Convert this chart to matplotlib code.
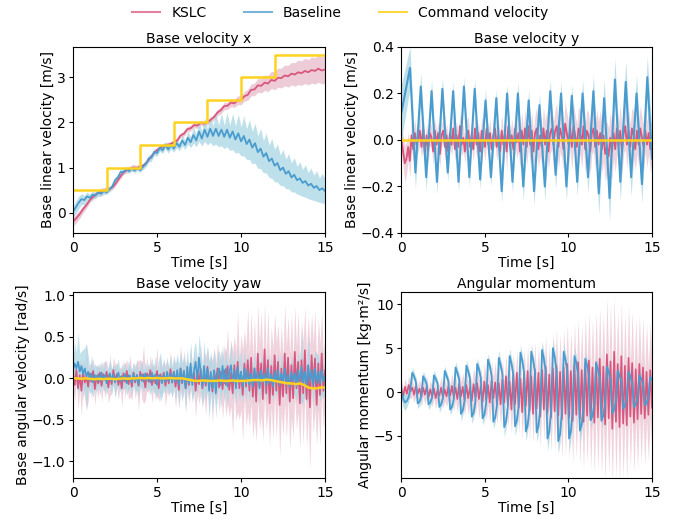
import numpy as np
import matplotlib
matplotlib.use("Agg")
import matplotlib.pyplot as plt
from matplotlib.lines import Line2D

plt.rcParams['font.family'] = ['DejaVu Sans']
plt.rcParams['font.size'] = 10
plt.rcParams['xtick.major.size'] = 3
plt.rcParams['ytick.major.size'] = 3
plt.rcParams['xtick.major.pad'] = 2.5
plt.rcParams['ytick.major.pad'] = 2.5
plt.rcParams['axes.titlepad'] = 3
plt.rcParams['axes.labelpad'] = 1.5

# ---------------- colours ----------------
C_KSLC = '#d9577e'
C_KSLC_BAND = '#e6b7c7'
C_BASE = '#4a9ccf'
C_BASE_BAND = '#a9d6e5'
C_CMD = '#ffd21f'

# ---------------- panel 1 : base velocity x ----------------
t_x_kslc = np.linspace(0, 15, 76)
vx_kslc = [-0.20, -0.12, -0.03, 0.08, 0.17, 0.28, 0.35, 0.42, 0.45, 0.48,
           0.50, 0.53, 0.58, 0.68, 0.79, 0.89, 0.94, 0.97, 1.00, 0.99,
           1.02, 1.05, 1.12, 1.22, 1.31, 1.39, 1.44, 1.48, 1.50, 1.52,
           1.56, 1.60, 1.71, 1.75, 1.85, 1.87, 1.94, 1.93, 1.99, 1.97,
           2.00, 2.06, 2.12, 2.22, 2.27, 2.36, 2.37, 2.44, 2.42, 2.49,
           2.49, 2.58, 2.61, 2.72, 2.73, 2.82, 2.81, 2.88, 2.86, 2.94,
           2.92, 2.99, 2.98, 3.04, 3.02, 3.08, 3.06, 3.11, 3.09, 3.14,
           3.11, 3.16, 3.14, 3.19, 3.15, 3.17]
vx_kslc_sd = [0.10, 0.10, 0.09, 0.08, 0.07, 0.06, 0.06, 0.07, 0.08, 0.08,
              0.07, 0.06, 0.05, 0.05, 0.05, 0.05, 0.06, 0.07, 0.07, 0.06,
              0.05, 0.05, 0.05, 0.05, 0.05, 0.05, 0.06, 0.06, 0.06, 0.05,
              0.05, 0.05, 0.05, 0.06, 0.06, 0.06, 0.06, 0.06, 0.06, 0.06,
              0.06, 0.06, 0.07, 0.07, 0.08, 0.08, 0.08, 0.09, 0.09, 0.10,
              0.10, 0.11, 0.12, 0.13, 0.14, 0.15, 0.16, 0.17, 0.18, 0.19,
              0.20, 0.21, 0.22, 0.23, 0.24, 0.25, 0.26, 0.27, 0.27, 0.28,
              0.28, 0.29, 0.29, 0.30, 0.30, 0.30]

t_x_base = np.linspace(0, 15, 91)
vx_base = [0.02, 0.12, 0.22, 0.30, 0.28, 0.36, 0.33, 0.40, 0.38, 0.45,
           0.42, 0.48, 0.45, 0.52, 0.58, 0.72, 0.78, 0.90, 0.90, 0.97,
           0.92, 0.98, 0.93, 0.99, 0.94, 1.02, 1.08, 1.20, 1.22, 1.35,
           1.32, 1.44, 1.38, 1.50, 1.40, 1.50, 1.42, 1.54, 1.46, 1.60,
           1.50, 1.66, 1.56, 1.72, 1.60, 1.80, 1.64, 1.84, 1.68, 1.86,
           1.70, 1.86, 1.70, 1.84, 1.68, 1.84, 1.66, 1.80, 1.62, 1.76,
           1.58, 1.70, 1.52, 1.62, 1.44, 1.54, 1.34, 1.42, 1.24, 1.32,
           1.14, 1.20, 1.04, 1.10, 0.94, 1.00, 0.86, 0.92, 0.78, 0.84,
           0.72, 0.76, 0.66, 0.70, 0.60, 0.64, 0.55, 0.59, 0.50, 0.54,
           0.48]
vx_base_sd = [0.12, 0.14, 0.14, 0.12, 0.10, 0.10, 0.08, 0.08, 0.07, 0.07,
              0.06, 0.06, 0.05, 0.05, 0.06, 0.07, 0.07, 0.08, 0.06, 0.06,
              0.05, 0.05, 0.05, 0.05, 0.05, 0.06, 0.07, 0.08, 0.08, 0.08,
              0.07, 0.08, 0.07, 0.08, 0.08, 0.09, 0.08, 0.10, 0.09, 0.12,
              0.10, 0.14, 0.12, 0.18, 0.14, 0.22, 0.16, 0.26, 0.18, 0.30,
              0.22, 0.34, 0.24, 0.36, 0.26, 0.38, 0.28, 0.40, 0.30, 0.42,
              0.32, 0.44, 0.34, 0.44, 0.36, 0.44, 0.36, 0.44, 0.36, 0.44,
              0.36, 0.44, 0.36, 0.42, 0.34, 0.40, 0.33, 0.39, 0.32, 0.38,
              0.31, 0.37, 0.30, 0.36, 0.29, 0.35, 0.28, 0.34, 0.27, 0.33,
              0.27]

cmd_x_t = [0, 2, 4, 6, 8, 10, 12, 15]
cmd_x = [0.5, 1.0, 1.5, 2.0, 2.5, 3.0, 3.5, 3.5]

# ---------------- panel 2 : base velocity y ----------------
t_dense = np.linspace(0, 15, 151)
vy_kslc = [0.00, -0.05, -0.10, -0.08, -0.03, -0.09, 0.02, -0.04, 0.03, -0.02, 0.00, 0.04, -0.03, 0.05, -0.06,
           0.02, -0.04, 0.03, 0.01, -0.05, 0.04, -0.02, 0.03, -0.06, 0.02, 0.04, -0.03, 0.02, -0.05, 0.03,
           -0.02, 0.05, -0.04, 0.02, -0.03, 0.06, -0.02, 0.01, -0.05, 0.03, 0.04, -0.03, 0.02, -0.04, 0.05,
           -0.02, 0.03, -0.05, 0.04, 0.01, -0.03, 0.05, -0.02, 0.03, -0.04, 0.02, 0.05, -0.03, 0.02, -0.05,
           0.04, -0.02, 0.03, -0.05, 0.06, -0.03, 0.02, -0.04, 0.05, -0.01, 0.03, -0.05, 0.04, -0.02, 0.05,
           -0.03, 0.06, -0.02, 0.04, -0.05, 0.03, 0.05, -0.04, 0.02, -0.03, 0.05, -0.02, 0.04, -0.05, 0.03,
           0.05, -0.02, 0.04, 0.06, -0.03, 0.05, 0.02, -0.04, 0.07, 0.03, -0.02, 0.05, -0.03, 0.06, 0.02,
           -0.03, 0.05, 0.03, -0.02, 0.06, -0.04, 0.04, 0.02, -0.05, 0.03, 0.05, -0.03, 0.04, -0.02, 0.03,
           -0.04, 0.02, -0.06, -0.03, -0.07, 0.01, -0.05, 0.03, -0.04, 0.05, -0.02, 0.04, -0.05, 0.03, 0.06,
           -0.02, 0.04, -0.03, 0.05, 0.02, -0.04, 0.04, -0.02, 0.05, 0.01, -0.03, 0.04, -0.02, 0.03, -0.04, 0.01]
vy_kslc_sd = [0.06, 0.07, 0.08, 0.07, 0.06, 0.07, 0.06, 0.05, 0.06, 0.05, 0.05, 0.06, 0.05, 0.06, 0.05,
              0.05, 0.06, 0.05, 0.05, 0.06, 0.05, 0.06, 0.05, 0.06, 0.05, 0.05, 0.06, 0.05, 0.06, 0.05,
              0.05, 0.06, 0.05, 0.06, 0.05, 0.06, 0.05, 0.06, 0.05, 0.06, 0.06, 0.05, 0.06, 0.05, 0.06,
              0.06, 0.05, 0.06, 0.06, 0.05, 0.06, 0.07, 0.06, 0.06, 0.05, 0.06, 0.07, 0.06, 0.06, 0.07,
              0.07, 0.06, 0.07, 0.08, 0.07, 0.06, 0.07, 0.08, 0.07, 0.07, 0.08, 0.07, 0.08, 0.07, 0.08,
              0.08, 0.09, 0.08, 0.08, 0.09, 0.08, 0.09, 0.08, 0.09, 0.08, 0.09, 0.10, 0.09, 0.08, 0.09,
              0.09, 0.10, 0.09, 0.10, 0.09, 0.10, 0.10, 0.09, 0.10, 0.09, 0.10, 0.09, 0.10, 0.10, 0.09,
              0.10, 0.09, 0.10, 0.10, 0.09, 0.10, 0.09, 0.10, 0.10, 0.09, 0.10, 0.10, 0.09, 0.10, 0.10,
              0.10, 0.11, 0.12, 0.11, 0.12, 0.11, 0.12, 0.11, 0.10, 0.11, 0.10, 0.11, 0.10, 0.09, 0.10,
              0.10, 0.09, 0.10, 0.09, 0.10, 0.09, 0.10, 0.09, 0.10, 0.09, 0.10, 0.09, 0.10, 0.09, 0.10, 0.10]

t_y_base = np.concatenate([[0.0], np.linspace(0.51, 14.72, 45), [15.0]])
vy_base = [0.12,
           0.31, -0.14, 0.23, -0.16, 0.21, -0.18, 0.22, -0.14, 0.21, -0.18,
           0.23, -0.16, 0.22, -0.17, 0.17, -0.16, 0.18, -0.22, 0.20, -0.18,
           0.20, -0.20, 0.17, -0.22, 0.15, -0.20, 0.21, -0.15, 0.20, -0.20,
           0.19, -0.18, 0.20, -0.16, 0.21, -0.23, 0.18, -0.25, 0.26, -0.18,
           0.25, -0.16, 0.20, -0.19, 0.27, -0.08]
vy_base_sd = [0.12,
              0.09, 0.07, 0.06, 0.06, 0.05, 0.05, 0.05, 0.04, 0.04, 0.04,
              0.04, 0.04, 0.04, 0.04, 0.05, 0.04, 0.04, 0.05, 0.04, 0.05,
              0.05, 0.06, 0.05, 0.06, 0.05, 0.06, 0.05, 0.06, 0.05, 0.06,
              0.05, 0.06, 0.06, 0.07, 0.07, 0.09, 0.08, 0.10, 0.09, 0.08,
              0.09, 0.08, 0.08, 0.08, 0.09, 0.10]

cmd_y_t = [0, 15]
cmd_y = [0.0, 0.0]

# ---------------- panel 3 : base velocity yaw ----------------
wz_kslc = [0.05, -0.08, 0.10, -0.12, 0.04, -0.15, 0.08, -0.05, 0.02, -0.10, 0.06, -0.04, 0.09, -0.13, 0.03,
           -0.06, 0.07, -0.09, 0.05, -0.02, 0.08, -0.11, 0.04, -0.07, 0.10, -0.03, 0.05, -0.08, 0.02, -0.12,
           0.06, -0.04, 0.09, -0.07, 0.03, -0.10, 0.07, -0.05, 0.04, -0.09, 0.08, -0.03, 0.05, -0.11, 0.06,
           -0.04, 0.10, -0.08, 0.03, -0.06, 0.09, -0.12, 0.05, -0.03, 0.07, -0.09, 0.04, -0.06, 0.11, -0.05,
           0.08, -0.10, 0.05, -0.14, 0.12, -0.06, 0.09, -0.12, 0.04, -0.08, 0.13, -0.05, 0.07, -0.15, 0.10,
           -0.07, 0.11, -0.12, 0.06, -0.09, 0.14, -0.10, 0.05, -0.16, 0.09, -0.06, 0.12, -0.11, 0.08, -0.13,
           0.10, -0.08, 0.15, -0.14, 0.07, -0.18, 0.16, -0.09, 0.20, -0.12, 0.08, -0.20, 0.18, -0.10, 0.22,
           -0.15, 0.25, -0.22, 0.12, -0.28, 0.30, -0.10, 0.18, -0.25, 0.35, -0.18, 0.22, -0.30, 0.15, -0.20,
           0.28, -0.15, 0.20, -0.32, 0.12, -0.22, 0.30, -0.18, 0.25, -0.28, 0.16, -0.24, 0.32, -0.12, 0.20,
           -0.30, 0.22, -0.18, 0.34, -0.25, 0.15, -0.35, 0.28, -0.12, 0.24, -0.32, 0.18, -0.20, 0.30, -0.15, 0.10]
wz_kslc_sd = [0.15, 0.20, 0.12, 0.25, 0.18, 0.30, 0.15, 0.20, 0.40, 0.18, 0.12, 0.22, 0.15, 0.20, 0.14,
              0.18, 0.12, 0.20, 0.15, 0.22, 0.14, 0.18, 0.25, 0.12, 0.16, 0.20, 0.14, 0.18, 0.12, 0.22,
              0.15, 0.20, 0.14, 0.18, 0.25, 0.16, 0.12, 0.20, 0.18, 0.30, 0.15, 0.22, 0.35, 0.16, 0.20,
              0.14, 0.18, 0.22, 0.15, 0.20, 0.28, 0.16, 0.22, 0.18, 0.15, 0.25, 0.20, 0.16, 0.22, 0.18,
              0.20, 0.25, 0.18, 0.22, 0.28, 0.20, 0.24, 0.30, 0.18, 0.22, 0.26, 0.20, 0.25, 0.32, 0.22,
              0.24, 0.30, 0.22, 0.28, 0.35, 0.25, 0.30, 0.22, 0.38, 0.28, 0.25, 0.32, 0.30, 0.26, 0.35,
              0.30, 0.38, 0.45, 0.32, 0.40, 0.50, 0.35, 0.42, 0.60, 0.38, 0.45, 0.55, 0.40, 0.48, 0.62,
              0.45, 0.55, 0.50, 0.60, 0.48, 0.58, 0.52, 0.62, 0.50, 0.55, 0.45, 0.60, 0.52, 0.48, 0.55,
              0.50, 0.58, 0.45, 0.62, 0.52, 0.48, 0.60, 0.55, 0.50, 0.58, 0.62, 0.48, 0.55, 0.50, 0.60,
              0.55, 0.48, 0.62, 0.52, 0.58, 0.60, 0.75, 0.50, 0.55, 0.60, 0.48, 0.55, 0.62, 0.50, 0.45, 0.40]
wz_base = [0.10, 0.18, 0.12, 0.20, 0.08, 0.15, 0.05, 0.12, 0.02, 0.08, -0.03, 0.06, -0.05, 0.04, -0.02,
           0.05, -0.04, 0.07, -0.02, 0.04, -0.06, 0.03, 0.06, -0.03, 0.05, -0.05, 0.02, 0.07, -0.04, 0.03,
           -0.02, 0.05, -0.06, 0.04, 0.02, -0.05, 0.06, -0.03, 0.04, -0.07, 0.03, 0.05, -0.04, 0.06, -0.02,
           0.04, -0.05, 0.07, -0.03, 0.05, -0.08, 0.04, 0.02, -0.06, 0.05, -0.04, 0.08, -0.03, 0.06, -0.05,
           0.08, -0.04, 0.10, -0.08, 0.12, -0.05, 0.09, -0.12, 0.14, -0.06, 0.18, -0.08, 0.10, 0.20, -0.05,
           0.25, 0.08, -0.10, 0.15, -0.06, 0.12, -0.15, 0.08, -0.12, 0.10, -0.18, 0.06, 0.12, -0.08, 0.15,
           -0.06, 0.12, -0.10, 0.08, 0.16, -0.05, 0.10, -0.12, 0.14, -0.04, 0.08, -0.10, 0.12, -0.06, 0.10,
           -0.08, 0.06, -0.10, 0.12, -0.05, 0.08, -0.12, 0.10, -0.04, 0.06, -0.08, 0.12, -0.06, 0.05, -0.10,
           0.08, -0.05, 0.10, -0.08, 0.06, -0.04, 0.12, -0.07, 0.05, -0.10, 0.08, -0.03, 0.06, -0.09, 0.10,
           -0.05, 0.14, -0.06, 0.08, -0.10, 0.16, -0.04, 0.10, -0.08, 0.12, -0.05, 0.08, -0.06, 0.10, -0.04, 0.02]
wz_base_sd = [0.15, 0.25, 0.20, 0.35, 0.22, 0.18, 0.30, 0.25, 0.40, 0.20, 0.15, 0.22, 0.18, 0.14, 0.16,
              0.12, 0.16, 0.14, 0.12, 0.18, 0.14, 0.12, 0.16, 0.15, 0.12, 0.18, 0.14, 0.16, 0.12, 0.15,
              0.12, 0.15, 0.14, 0.18, 0.12, 0.16, 0.14, 0.12, 0.18, 0.15, 0.14, 0.16, 0.12, 0.15, 0.14,
              0.14, 0.16, 0.18, 0.14, 0.22, 0.16, 0.18, 0.30, 0.16, 0.20, 0.14, 0.18, 0.16, 0.22, 0.18,
              0.18, 0.22, 0.20, 0.25, 0.20, 0.24, 0.18, 0.26, 0.22, 0.20, 0.25, 0.22, 0.28, 0.24, 0.22,
              0.28, 0.25, 0.24, 0.30, 0.22, 0.26, 0.35, 0.24, 0.28, 0.26, 0.30, 0.24, 0.22, 0.28, 0.25,
              0.22, 0.26, 0.24, 0.20, 0.28, 0.22, 0.25, 0.20, 0.24, 0.22, 0.26, 0.20, 0.24, 0.22, 0.20,
              0.20, 0.18, 0.22, 0.20, 0.18, 0.22, 0.20, 0.24, 0.18, 0.20, 0.22, 0.18, 0.20, 0.22, 0.18,
              0.20, 0.18, 0.22, 0.20, 0.24, 0.18, 0.22, 0.20, 0.18, 0.22, 0.20, 0.18, 0.24, 0.20, 0.22,
              0.20, 0.45, 0.22, 0.25, 0.20, 0.40, 0.22, 0.20, 0.25, 0.22, 0.35, 0.20, 0.22, 0.30, 0.20, 0.18]

t_yaw_cmd = np.linspace(0, 15, 61)
cmd_yaw = [0.0, 0.0, -0.005, 0.0, -0.005, -0.01, -0.005, -0.01, -0.005,
           -0.005, -0.01, -0.005, 0.0, -0.005, 0.0, 0.0, 0.005,
           0.0, 0.005, 0.0, 0.005, 0.0, 0.0, 0.005, 0.0,
           0.0, 0.0, -0.01, -0.02, -0.03, -0.03, -0.025, -0.03,
           -0.03, -0.03, -0.025, -0.03, -0.03, -0.025, -0.03, -0.03,
           -0.03, -0.025, -0.02, -0.02, -0.025, -0.015, -0.02, -0.03,
           -0.04, -0.05, -0.06, -0.06, -0.07, -0.06, -0.08, -0.11,
           -0.12, -0.12, -0.11, -0.11]

# ---------------- panel 4 : angular momentum ----------------
t_am = np.linspace(0, 15, 140)
am_kslc = [0.3, -0.4, 0.6, -0.2, 0.8, 0.1, 0.5, -0.3, 0.7, -0.2, 0.4, -0.5, 0.5, -0.3,
           0.6, -0.6, 0.3, -0.5, 0.4, -0.7, 0.2, -0.4, 0.5, -0.6, 0.3, -0.5, 0.6, -0.4,
           0.7, -0.6, 0.5, -0.8, 0.9, -0.5, 0.6, -0.9, 0.8, -0.7, 0.5, -1.0, 0.9, -0.6,
           1.0, -0.8, 0.7, -1.1, 1.2, -0.9, 0.8, -1.2, 1.3, -0.7, 1.1, -1.3, 1.0, -1.4,
           1.4, -1.2, 1.8, -1.5, 1.2, -2.0, 1.9, -1.4, 2.2, -1.8, 1.5, -2.3, 2.1, -1.6,
           2.4, -2.2, 1.8, -2.5, 2.6, -1.9, 2.2, -2.8, 2.5, -2.0, 2.9, -2.4, 2.0, -2.9,
           2.7, -2.2, 3.0, -2.7, 2.3, -3.1, 2.8, -2.5, 3.2, -2.9, 2.4, -3.3, 3.1, -2.6,
           3.4, -3.0, 2.5, -3.4, 3.3, -2.7, 3.6, -3.2, 2.8, -3.5, 3.4, -2.9, 3.8, -3.3,
           2.9, -3.7, 4.3, -3.0, 3.5, -4.2, 4.6, -3.4, 3.2, -4.0, 4.1, -3.6, 3.0, -3.8,
           3.9, -2.8, 3.3, -3.5, 2.6, -3.1, 3.2, -2.5, 2.8, -3.0, 2.3, -2.6, 2.5, -1.8]
am_kslc_sd = [1.0, 0.9, 1.0, 0.9, 1.1, 0.9, 1.0, 0.9, 1.1, 1.0, 1.0, 1.1, 1.0, 1.1,
              1.2, 1.1, 1.0, 1.2, 1.1, 1.2, 1.1, 1.2, 1.3, 1.2, 1.3, 1.2, 1.4, 1.3,
              1.4, 1.5, 1.4, 1.6, 1.5, 1.7, 1.6, 1.8, 1.7, 1.9, 1.8, 2.0, 1.9, 2.1,
              2.0, 2.2, 2.1, 2.2, 2.1, 2.3, 2.2, 2.3, 2.2, 2.4, 2.3, 2.4, 2.3, 2.5,
              2.3, 2.5, 2.4, 2.6, 2.4, 2.7, 2.5, 2.8, 2.6, 2.9, 2.7, 3.0, 2.8, 3.1,
              2.9, 3.2, 3.0, 3.3, 3.1, 3.4, 3.2, 3.5, 3.3, 3.6, 3.4, 3.7, 3.5, 3.8,
              4.1, 4.3, 4.2, 4.4, 4.3, 4.5, 4.4, 4.6, 4.5, 4.7, 4.6, 4.8, 4.7, 4.9,
              4.9, 5.2, 5.1, 5.4, 5.3, 5.5, 5.4, 5.6, 5.5, 5.8, 5.6, 5.9, 5.8, 6.1,
              6.0, 6.3, 6.4, 6.2, 6.5, 6.1, 6.2, 6.4, 6.0, 6.3, 6.1, 6.2, 5.9, 6.1,
              6.0, 5.8, 5.9, 5.7, 5.8, 5.6, 5.7, 5.5, 5.6, 5.4, 5.5, 5.3, 5.4, 5.2]
am_base = [0.0, -0.8, -1.2, -1.0, -0.6, 0.5,
           2.2, 1.8, 1.1, -1.3, -1.1, -0.5,
           1.8, 1.4, 0.9, -1.4, -1.2, -0.6,
           1.9, 1.5, 1.0, -1.7, -1.4, -0.7,
           2.4, 1.9, 1.2, -2.0, -1.7, -0.8,
           2.8, 2.2, 1.4, -2.5, -2.1, -1.0,
           3.0, 2.4, 1.5, -2.8, -2.4, -1.1,
           3.2, 2.6, 1.6, -3.0, -2.6, -1.2,
           3.7, 3.0, 1.8, -3.4, -2.9, -1.4,
           3.9, 3.1, 2.0, -4.0, -3.4, -1.6,
           4.1, 3.3, 2.0, -3.9, -3.3, -1.6,
           4.5, 3.6, 2.2, -4.5, -3.8, -1.8,
           4.6, 3.7, 2.3, -4.6, -3.9, -1.8,
           4.8, 3.8, 2.4, -5.3, -4.5, -2.1,
           5.0, 4.0, 2.5, -5.6, -4.8, -2.2,
           4.6, 3.7, 2.3, -5.3, -4.5, -2.1,
           4.1, 3.3, 2.0, -4.4, -3.7, -1.8,
           3.8, 3.0, 1.9, -3.2, -2.7, -1.3,
           3.3, 2.6, 1.6, -3.2, -2.7, -1.3,
           2.9, 2.3, 1.4, -2.4, -2.0, -1.0,
           2.4, 1.9, 1.2, -1.9, -1.6, -0.8,
           2.3, 1.8, 1.1, -1.7, -1.4, -0.7,
           1.9, 1.5, 1.0, -1.5, -1.3, -0.6,
           1.7, 1.4]
am_base_sd = [0.9, 1.0, 0.9, 0.7, 0.6, 0.6,
              0.6, 0.5, 0.5, 0.6, 0.5, 0.5,
              0.6, 0.5, 0.5, 0.6, 0.5, 0.5,
              0.6, 0.5, 0.5, 0.6, 0.5, 0.5,
              0.6, 0.5, 0.5, 0.6, 0.5, 0.5,
              0.7, 0.6, 0.6, 0.8, 0.6, 0.6,
              0.7, 0.6, 0.6, 0.8, 0.6, 0.6,
              0.7, 0.6, 0.6, 0.8, 0.6, 0.6,
              0.7, 0.6, 0.6, 0.8, 0.6, 0.6,
              0.9, 0.7, 0.7, 1.1, 0.8, 0.7,
              0.9, 0.7, 0.7, 1.1, 0.8, 0.7,
              0.9, 0.7, 0.7, 1.1, 0.8, 0.7,
              0.9, 0.7, 0.7, 1.1, 0.8, 0.7,
              1.0, 0.8, 0.8, 1.4, 1.0, 0.8,
              1.0, 0.8, 0.8, 1.4, 1.0, 0.8,
              1.0, 0.8, 0.8, 1.4, 1.0, 0.8,
              1.0, 0.8, 0.8, 1.4, 1.0, 0.8,
              0.8, 0.7, 0.7, 0.9, 0.7, 0.6,
              0.8, 0.7, 0.7, 0.9, 0.7, 0.6,
              0.8, 0.7, 0.7, 0.9, 0.7, 0.6,
              0.8, 0.7, 0.7, 0.9, 0.7, 0.6,
              0.8, 0.7, 0.7, 0.9, 0.7, 0.6,
              0.8, 0.7, 0.7, 0.9, 0.7, 0.6,
              0.7, 0.7]

# sanity checks on lengths
for name, tt, arrs in [('x_kslc', t_x_kslc, [vx_kslc, vx_kslc_sd]),
                       ('x_base', t_x_base, [vx_base, vx_base_sd]),
                       ('y_kslc', t_dense, [vy_kslc, vy_kslc_sd]),
                       ('y_base', t_y_base, [vy_base, vy_base_sd]),
                       ('yaw', t_dense, [wz_kslc, wz_kslc_sd, wz_base, wz_base_sd]),
                       ('yawcmd', t_yaw_cmd, [cmd_yaw]),
                       ('am', t_am, [am_kslc, am_kslc_sd, am_base, am_base_sd])]:
    for a in arrs:
        if len(a) != len(tt):
            raise ValueError(f"{name}: {len(a)} vs {len(tt)}")

# ---------------- figure ----------------
fig = plt.figure(figsize=(6.85, 5.21), dpi=100)
ax1 = fig.add_axes([0.1066, 0.5528, 0.3679, 0.3570])
ax2 = fig.add_axes([0.5861, 0.5528, 0.3657, 0.3570])
ax3 = fig.add_axes([0.1066, 0.0825, 0.3679, 0.3570])
ax4 = fig.add_axes([0.5861, 0.0825, 0.3657, 0.3570])


def draw(ax, t, m, sd, line_c, band_c, band_alpha, lw):
    m = np.asarray(m)
    sd = np.asarray(sd)
    ax.fill_between(t, m - sd, m + sd, color=band_c, alpha=band_alpha, lw=0)
    ax.plot(t, m, color=line_c, lw=lw)


# panel 1
draw(ax1, t_x_kslc, vx_kslc, vx_kslc_sd, C_KSLC, C_KSLC_BAND, 0.7, 1.3)
draw(ax1, t_x_base, vx_base, vx_base_sd, C_BASE, C_BASE_BAND, 0.75, 1.3)
ax1.step(cmd_x_t, cmd_x, where='post', color=C_CMD, lw=1.8)
ax1.set_ylim(-0.45, 3.67)
ax1.set_yticks([0, 1, 2, 3])
ax1.set_title('Base velocity x', fontsize=10)
ax1.set_ylabel('Base linear velocity [m/s]')

# panel 2
draw(ax2, t_dense, vy_kslc, vy_kslc_sd, C_KSLC, C_KSLC_BAND, 0.6, 1.3)
draw(ax2, t_y_base, vy_base, vy_base_sd, C_BASE, C_BASE_BAND, 0.75, 1.5)
ax2.plot(cmd_y_t, cmd_y, color=C_CMD, lw=1.8)
ax2.set_ylim(-0.4, 0.4)
ax2.set_yticks([-0.4, -0.2, 0.0, 0.2, 0.4])
ax2.set_title('Base velocity y', fontsize=10)
ax2.set_ylabel('Base linear velocity [m/s]')

# panel 3
draw(ax3, t_dense, wz_kslc, wz_kslc_sd, C_KSLC, C_KSLC_BAND, 0.6, 1.2)
draw(ax3, t_dense, wz_base, wz_base_sd, C_BASE, C_BASE_BAND, 0.7, 1.2)
ax3.plot(t_yaw_cmd, cmd_yaw, color=C_CMD, lw=1.8)
ax3.set_ylim(-1.2, 1.04)
ax3.set_yticks([-1.0, -0.5, 0.0, 0.5, 1.0])
ax3.set_title('Base velocity yaw', fontsize=10)
ax3.set_ylabel('Base angular velocity [rad/s]')

# panel 4
draw(ax4, t_am, am_kslc, am_kslc_sd, C_KSLC, C_KSLC_BAND, 0.6, 1.2)
draw(ax4, t_am, am_base, am_base_sd, C_BASE, C_BASE_BAND, 0.75, 1.3)
ax4.set_ylim(-9.8, 11.4)
ax4.set_yticks([-5, 0, 5, 10])
ax4.set_title('Angular momentum', fontsize=10)
ax4.set_ylabel('Angular momentum [kg·m²/s]')

for ax in (ax1, ax2, ax3, ax4):
    ax.set_xlim(0, 15)
    ax.set_xticks([0, 5, 10, 15])
    ax.set_xlabel('Time [s]', labelpad=1.0)
    ax.yaxis.labelpad = 1.0

fig.align_ylabels([ax1, ax3])
fig.align_ylabels([ax2, ax4])

handles = [Line2D([], [], color=C_KSLC, lw=1.5, alpha=0.75),
           Line2D([], [], color=C_BASE, lw=1.5, alpha=0.75),
           Line2D([], [], color=C_CMD, lw=1.5, alpha=0.85)]
fig.legend(handles, ['KSLC', 'Baseline', 'Command velocity'], loc='center',
           bbox_to_anchor=(0.497, 0.975), ncol=3, frameon=False,
           columnspacing=2.7, fontsize=10)

fig.savefig('out.png', dpi=100)
